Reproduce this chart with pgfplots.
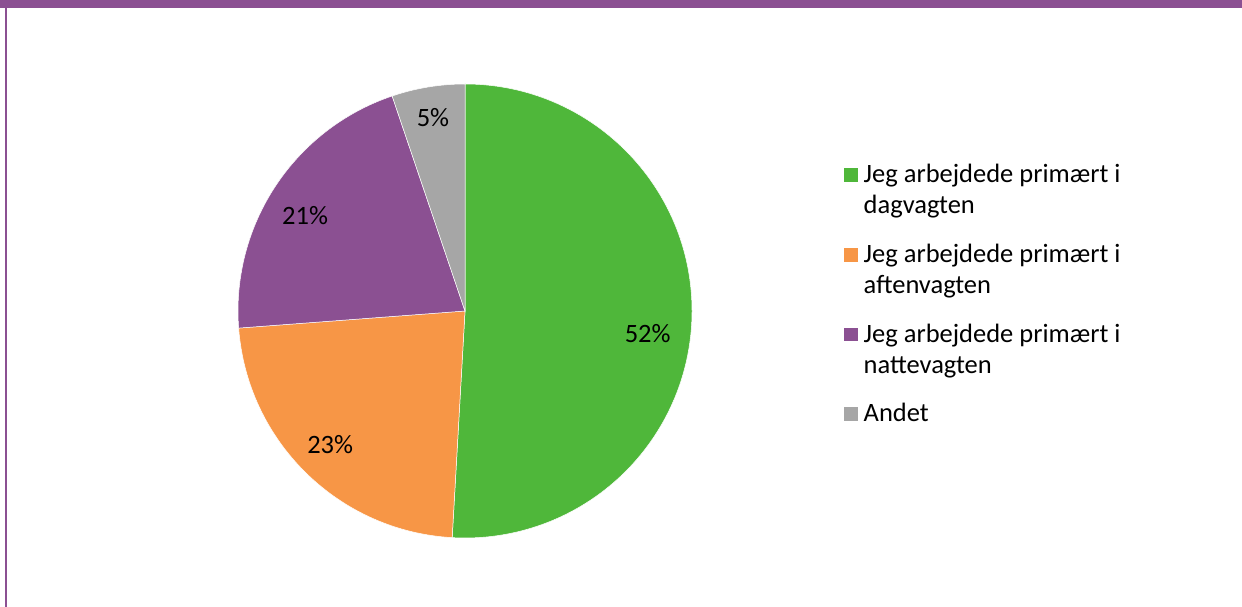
\documentclass[border=0pt]{standalone}
\usepackage{pgfplots}
\pgfplotsset{compat=1.18}
\usepackage{pgfplotstable}
\usepackage{fontspec}
\setmainfont{Carlito}
\definecolor{cgreen}{HTML}{4FB73A}
\definecolor{corange}{HTML}{F79646}
\definecolor{cpurple}{HTML}{8B5092}
\definecolor{cgray}{HTML}{A6A6A6}
\newcommand\lblfont{\fontsize{26.5bp}{31bp}\selectfont}

% value = share of the circle as drawn, shown = printed label
\pgfplotstableread{
value shown color   labelangle labelr
50.9  52    cgreen  -6.9       184
22.9  23    corange 224.8      190
21.0  21    cpurple 149.3      186
5.2   5     cgray   99.4       196
}\piedata

\begin{document}
\begin{tikzpicture}
\begin{axis}[
  scale only axis, width=1242bp, height=607bp,
  xmin=0, xmax=1242, ymin=0, ymax=607,
  hide axis, clip=false]
% frame
\fill[cpurple] (axis cs:0,599.3) rectangle (axis cs:1242,607);
\fill[cpurple] (axis cs:5,0) rectangle (axis cs:7,607);
% pie
\pgfmathsetmacro\cum{90}
\pgfplotsforeachungrouped \i in {0,1,2,3}{%
  \pgfplotstablegetelem{\i}{value}\of\piedata \let\v=\pgfplotsretval
  \pgfplotstablegetelem{\i}{color}\of\piedata \let\col=\pgfplotsretval
  \pgfmathsetmacro\endang{\cum-\v*3.6}%
  \edef\cmd{\noexpand\fill[\col, draw=white, line width=0.5bp] (axis cs:465,296) -- ++(\cum:227bp) arc[start angle=\cum, end angle=\endang, radius=227bp] -- cycle;}%
  \cmd
  \global\let\cum=\endang
}
\pgfplotsforeachungrouped \i in {0,1,2,3}{%
  \pgfplotstablegetelem{\i}{shown}\of\piedata \let\lab=\pgfplotsretval
  \pgfplotstablegetelem{\i}{labelangle}\of\piedata \let\la=\pgfplotsretval
  \pgfplotstablegetelem{\i}{labelr}\of\piedata \let\lr=\pgfplotsretval
  \edef\cmd{\noexpand\path (axis cs:465,296) ++(\la:\lr bp) node[inner sep=0, font=\noexpand\lblfont] {\lab\noexpand\%};}%
  \cmd
}
% legend
\fill[cgreen]  (axis cs:843.5,425) rectangle ++(14bp,13.5bp);
\fill[corange] (axis cs:843.5,345.3) rectangle ++(14bp,13.5bp);
\fill[cpurple] (axis cs:843.5,265.6) rectangle ++(14bp,13.5bp);
\fill[cgray]   (axis cs:843.5,186) rectangle ++(14bp,13.5bp);
\tikzset{lg/.style={anchor=base west, inner sep=0, font=\lblfont}}
\node[lg] at (axis cs:863.5,424) {Jeg arbejdede primært i};
\node[lg] at (axis cs:863.5,393) {dagvagten};
\node[lg] at (axis cs:863.5,344.3) {Jeg arbejdede primært i};
\node[lg] at (axis cs:863.5,313.3) {aftenvagten};
\node[lg] at (axis cs:863.5,264.6) {Jeg arbejdede primært i};
\node[lg] at (axis cs:863.5,233.6) {nattevagten};
\node[lg] at (axis cs:863.5,185) {Andet};
\end{axis}
\end{tikzpicture}
\end{document}
